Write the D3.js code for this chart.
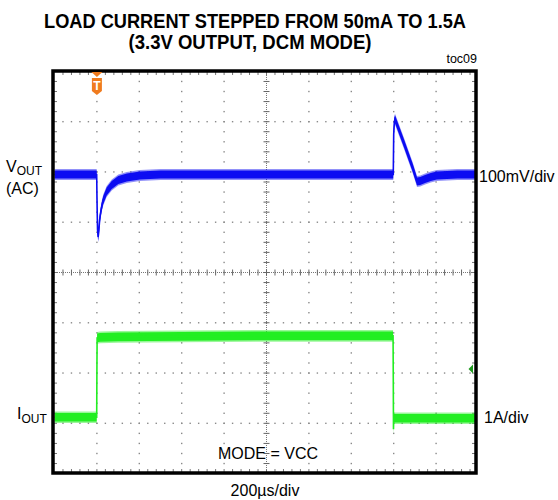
<!DOCTYPE html>
<html>
<head>
<meta charset="utf-8">
<script src="https://cdn.jsdelivr.net/npm/d3@7/dist/d3.min.js"></script>
<style>
html,body{margin:0;padding:0;background:#fff;}
svg{display:block;}
text{font-family:"Liberation Sans","Arial",sans-serif;fill:#000;}
</style>
</head>
<body>
<svg id="chart" width="558" height="500"></svg>
<script>
// ---- data ----
const titleLines = ["LOAD CURRENT STEPPED FROM 50mA TO 1.5A", "(3.3V OUTPUT, DCM MODE)"];
const figureTag = "toc09";
const timeDivLabel = "200\u00b5s/div";
const modeLabel = "MODE = VCC";
const vScaleLabel = "100mV/div";
const iScaleLabel = "1A/div";

// horizontal: 10 divisions x 200us
const timeDomain = [0, 2000];
const timeDivisions = 10;
const vertDivisions = 8;

// VOUT (AC coupled), mV, 100mV/div
const vTime = [0, 100, 198, 199, 201, 203, 206, 209, 213, 218, 224, 230, 246, 270, 301, 341, 403, 500, 800, 1200, 1597, 1598, 1600, 1603, 1606, 1609, 1650, 1690, 1710, 1725, 1748, 1775, 1803, 1900, 2000];
const vOut  = [-5, -5, -5, -5, -70, -115, -129, -118, -95, -80, -66, -56, -39, -26, -16, -11, -7, -5, -5, -5, -5, -5, 75, 100, 105, 102, 55, 8, -19, -18, -14, -10, -7, -5, -5];

// IOUT, A, 1A/div
const iTime = [0, 100, 199, 200, 201, 215, 300, 600, 1000, 1400, 1597, 1598, 1599, 1600, 1700, 2000];
const iOut  = [0.12, 0.12, 0.12, 1.0, 1.70, 1.71, 1.72, 1.73, 1.74, 1.74, 1.74, 0.9, -0.12, 0.10, 0.10, 0.10];

const triggerTime = 200;

// ---- layout ----
const svg = d3.select("#chart");
const frame = {x0: 53, x1: 476, y0: 71, y1: 473};
const x = d3.scaleLinear().domain(timeDomain).range([54.5, 478.5]);
const yDiv = d3.scaleLinear().domain([0, vertDivisions]).range([473.6, 71.4]);
const xDiv = d3.scaleLinear().domain([0, timeDivisions]).range([54.5, 478.5]);
const yV = d3.scaleLinear().domain([-600, 200]).range([473.6, 71.4]);   // 0 mV at div 6
const yI = d3.scaleLinear().domain([-1, 7]).range([473.6, 71.4]);       // 0 A at div 1

const defs = svg.append("defs");
defs.append("clipPath").attr("id", "clip").append("rect")
  .attr("x", frame.x0).attr("y", frame.y0)
  .attr("width", frame.x1 - frame.x0).attr("height", frame.y1 - frame.y0);

const grid = svg.append("g").attr("clip-path", "url(#clip)");
const dotColor = "#8a8a8a";

// dotted grid lines
for (let i = 1; i < timeDivisions; i++) {
  if (i === timeDivisions / 2) continue;
  for (let j = 1; j < vertDivisions * 5; j++) {
    grid.append("rect").attr("x", xDiv(i) - 0.7).attr("y", yDiv(j / 5) - 0.7)
      .attr("width", 1.4).attr("height", 1.4).attr("fill", dotColor);
  }
}
for (let k = 1; k < vertDivisions; k++) {
  if (k === vertDivisions / 2) continue;
  for (let m = 1; m < timeDivisions * 5; m++) {
    grid.append("rect").attr("x", xDiv(m / 5) - 0.7).attr("y", yDiv(k) - 0.7)
      .attr("width", 1.4).attr("height", 1.4).attr("fill", dotColor);
  }
}
// centre axes with minor ticks
const cx = xDiv(timeDivisions / 2), cy = yDiv(vertDivisions / 2);
grid.append("line").attr("x1", cx).attr("x2", cx).attr("y1", frame.y0).attr("y2", frame.y1)
  .attr("stroke", "#777").attr("stroke-width", 1).attr("stroke-dasharray", "1,1");
grid.append("line").attr("y1", cy).attr("y2", cy).attr("x1", frame.x0).attr("x2", frame.x1)
  .attr("stroke", "#777").attr("stroke-width", 1).attr("stroke-dasharray", "1,1");
for (let j = 1; j < vertDivisions * 5; j++) {
  const yy = yDiv(j / 5);
  grid.append("line").attr("x1", cx - 3).attr("x2", cx + 3).attr("y1", yy).attr("y2", yy)
    .attr("stroke", "#666").attr("stroke-width", 1);
}
for (let m = 1; m < timeDivisions * 5; m++) {
  const xx = xDiv(m / 5);
  grid.append("line").attr("x1", xx).attr("x2", xx).attr("y1", cy - 3).attr("y2", cy + 3)
    .attr("stroke", "#666").attr("stroke-width", 1);
}
// border ticks
for (let m = 1; m < timeDivisions * 5; m++) {
  const xx = xDiv(m / 5);
  grid.append("line").attr("x1", xx).attr("x2", xx).attr("y1", frame.y0).attr("y2", frame.y0 + 4)
    .attr("stroke", "#777").attr("stroke-width", 1);
  grid.append("line").attr("x1", xx).attr("x2", xx).attr("y1", frame.y1 - 4).attr("y2", frame.y1)
    .attr("stroke", "#777").attr("stroke-width", 1);
}
for (let j = 1; j < vertDivisions * 5; j++) {
  const yy = yDiv(j / 5);
  grid.append("line").attr("x1", frame.x0).attr("x2", frame.x0 + 4).attr("y1", yy).attr("y2", yy)
    .attr("stroke", "#777").attr("stroke-width", 1);
  grid.append("line").attr("x1", frame.x1 - 4).attr("x2", frame.x1).attr("y1", yy).attr("y2", yy)
    .attr("stroke", "#777").attr("stroke-width", 1);
}

// ---- traces ----
const traces = svg.append("g").attr("clip-path", "url(#clip)");
function drawTrace(times, vals, yScale, color, half, outerOpacity) {
  const pts = times.map((t, i) => [t, vals[i]]);
  const outer = d3.area().x(d => x(d[0])).y0(d => yScale(d[1]) + half + 1.5).y1(d => yScale(d[1]) - half - 1.5);
  const inner = d3.area().x(d => x(d[0])).y0(d => yScale(d[1]) + half).y1(d => yScale(d[1]) - half);
  const line = d3.line().x(d => x(d[0])).y(d => yScale(d[1]));
  traces.append("path").datum(pts).attr("d", outer).attr("fill", color).attr("opacity", outerOpacity);
  traces.append("path").datum(pts).attr("d", inner).attr("fill", color);
  traces.append("path").datum(pts).attr("d", line).attr("fill", "none")
    .attr("stroke", color).attr("stroke-width", 1.6);
}
drawTrace(vTime, vOut, yV, "#0c0cf2", 4.0, 0.45);
drawTrace(iTime, iOut, yI, "#22ee22", 4.3, 0.45);

// frame
svg.append("rect").attr("x", frame.x0).attr("y", frame.y0)
  .attr("width", frame.x1 - frame.x0).attr("height", frame.y1 - frame.y0)
  .attr("fill", "none").attr("stroke", "#000").attr("stroke-width", 3.5);

// trigger marker
const tx = x(triggerTime);
svg.append("path").attr("d", `M${tx-5.5},${frame.y0+1} L${tx+5.5},${frame.y0+1} L${tx},${frame.y0+6} Z`).attr("fill", "#f07b1e");
svg.append("path").attr("d", `M${tx-5},${frame.y0+7} L${tx+5},${frame.y0+7} L${tx+5},${frame.y0+20} L${tx},${frame.y0+24} L${tx-5},${frame.y0+20} Z`).attr("fill", "#f07b1e");
svg.append("text").attr("x", tx).attr("y", frame.y0 + 19).attr("text-anchor", "middle")
  .attr("font-size", 12).attr("font-weight", "bold").style("fill", "#fff").text("T");

// IOUT ground marker
const gy = yI(1) - 4;
svg.append("path").attr("d", `M${frame.x1-7.5},${gy} L${frame.x1-3},${gy-4.5} L${frame.x1-3},${gy+4.5} Z`).attr("fill", "#1f9a1f");

// ---- text ----
svg.append("text").attr("x", 255).attr("y", 28).attr("text-anchor", "middle")
  .attr("font-size", 21).attr("font-weight", "bold")
  .attr("textLength", 422).attr("lengthAdjust", "spacingAndGlyphs").text(titleLines[0]);
svg.append("text").attr("x", 250).attr("y", 49).attr("text-anchor", "middle")
  .attr("font-size", 21).attr("font-weight", "bold")
  .attr("textLength", 243).attr("lengthAdjust", "spacingAndGlyphs").text(titleLines[1]);
svg.append("text").attr("x", 477).attr("y", 63).attr("text-anchor", "end")
  .attr("font-size", 12.5).text(figureTag);

const vl = svg.append("text").attr("x", 6).attr("y", 172).attr("font-size", 16);
vl.append("tspan").text("V");
vl.append("tspan").attr("font-size", 12).attr("dy", 3).text("OUT");
svg.append("text").attr("x", 6).attr("y", 194).attr("font-size", 16).text("(AC)");

const il = svg.append("text").attr("x", 17).attr("y", 419).attr("font-size", 16);
il.append("tspan").text("I");
il.append("tspan").attr("font-size", 12).attr("dy", 4).text("OUT");

svg.append("text").attr("x", 479).attr("y", 182).attr("font-size", 16).text(vScaleLabel);
svg.append("text").attr("x", 484).attr("y", 423).attr("font-size", 16).text(iScaleLabel);
svg.append("text").attr("x", 268).attr("y", 459).attr("text-anchor", "middle").attr("font-size", 16).text(modeLabel);
svg.append("text").attr("x", 265).attr("y", 496).attr("text-anchor", "middle").attr("font-size", 16).text(timeDivLabel);
</script>
</body>
</html>
